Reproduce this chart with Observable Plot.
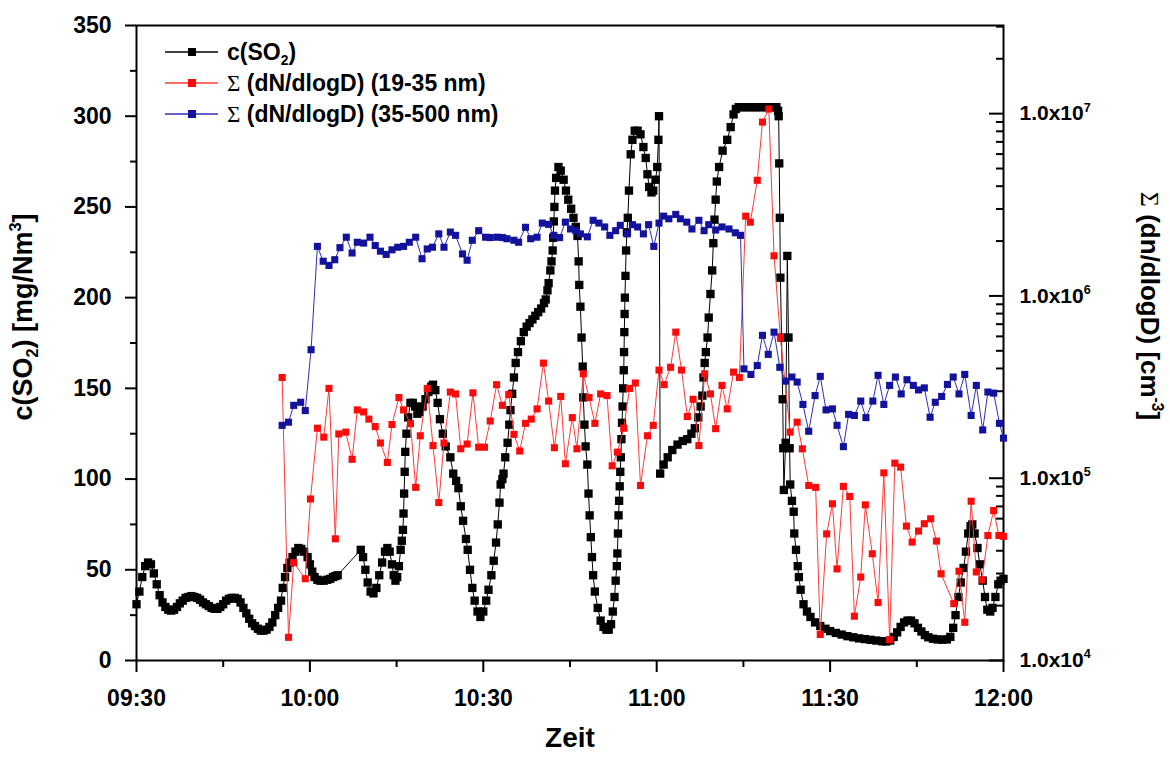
<!DOCTYPE html>
<html>
<head>
<meta charset="utf-8">
<script src="https://cdn.jsdelivr.net/npm/d3@7"></script>
<script src="https://cdn.jsdelivr.net/npm/@observablehq/plot@0.6"></script>
<style>
  body { margin: 0; background: #fff; }
  #wrap { position: relative; width: 1170px; height: 758px; font-family: "Liberation Sans", Arial, Helvetica, sans-serif; }
</style>
</head>
<body>
<div id="wrap"></div>
<script>
// ---------- DATA (time = minutes after 09:30) ----------
// c(SO2) [mg/Nm3], left axis
const so2Readings = [
  [0,31],[0.5,38],[1,46],[1.5,52],[2,54],[2.5,53],[3,48],[3.5,42],[4,36],[4.5,32],[5,29.5],[5.5,28],[6,27.5],[6.5,28],[7,29.5],[7.5,31.5],[8,33],[8.5,34.5],[9,35],[9.5,35.5],[10,35],[10.5,34.5],[11,33.5],[11.5,32],[12,31],[12.5,30],[13,29],[13.5,28.5],[14,28.5],[14.5,29.5],[15,31],[15.5,33],[16,34],[16.5,34.5],[17,34.5],[17.5,34],[18,32],[18.5,29],[19,26],[19.5,23],[20,20.5],[20.5,19],[21,17.5],[21.5,16.5],[22,16.5],[22.5,17],[23,18.5],[23.5,21],[24,25],[24.5,29],[25,33],
  [25.3,40],[25.7,46],[26.1,51],[26.5,54],[27,57],[27.5,60],[28,62],[28.5,61.5],[29,60],[29.6,57],[30,53],[30.4,49],[30.8,46],[31.3,44.5],[31.8,44],[32.4,44],[33,44.5],[33.5,45],[34,46],[34.4,46.5],[34.8,47],
  [38.8,61],[39.2,57],[39.6,50],[40,43],[40.5,38],[41,37],[41.5,40],[42,47],[42.5,54],[43,60],[43.4,62],[43.8,60],[44.2,53],[44.5,47],[44.8,44],[45.1,46],[45.4,52],[45.7,61],[45.9,66],[46.1,72],[46.2,81],[46.3,92],[46.4,104],[46.5,115],[46.7,125],[47,134],[47.4,142],[47.8,142],[48.2,140],[48.6,136],[49,137],[49.5,140],[50,144],[50.5,148],[51,151],[51.3,152],[51.7,149],[52.1,142],[52.5,133],[53,125],[53.5,118],[54.3,112],[54.8,103],[55.3,99],[55.7,95],[56.1,85],[56.5,77],[57,67],[57.3,61],[57.7,50],[58.1,40],[58.5,33],[59,27],[59.5,24],[60,27],[60.5,33],[60.9,39],[61.4,47],[61.8,55],[62.2,65],[62.5,75],[62.8,87],[63,97],[63.3,100],[63.5,103],[63.8,112],[64.2,120],[64.5,130],[64.7,138],[65,147],[65.3,156],[65.6,164],[66,170],[66.5,176],[67,181],[67.5,184],[68,186],[68.5,188],[69,190],[69.5,192],[70,194],[70.5,197],[70.8,199],[71.1,204],[71.3,208],[71.6,215],[71.8,220],[72,226],[72.1,233],[72.2,242],[72.3,250],[72.4,259],[72.6,266],[73,272],[73.4,270],[73.9,265],[74.3,259],[74.7,254],[75.2,249],[75.6,244],[76,239],[76.3,234],[76.5,220],[76.6,207],[76.8,195],[77,178],[77.2,162],[77.3,145],[77.5,130],[77.7,118],[78,108],[78.2,92],[78.4,80],[78.6,68],[78.8,57],[79,47],[79.3,38],[79.8,29],[80.3,22],[80.8,18.5],[81.3,17],[81.7,17],[82.1,20],[82.4,27],[82.7,35],[82.9,44],[83.1,52],[83.2,59],[83.3,70],[83.4,80],[83.5,88],[83.6,96],[83.7,104],[83.8,112],[83.9,122],[84,131],[84.1,140],[84.2,150],[84.3,160],[84.35,170],[84.4,181],[84.45,191],[84.5,200],[84.6,212],[84.7,226],[84.85,236],[85,244],[85.2,259],[85.5,279],[85.8,287],[86.2,292],[86.7,292],[87.2,290],[87.7,283],[88.1,277],[88.4,268],[88.7,261],[89.1,258],[89.4,259],[89.8,265],[90.1,272],[90.3,287],[90.4,300],
  [90.6,103],[91.2,108],[91.9,112],[92.7,116],[93.6,119],[94.5,121],[95.3,122],[96,125],[96.6,128],[97.2,134],[97.6,140],[97.9,146],[98.1,156],[98.3,164],[98.5,170],[98.8,178],[99,189],[99.3,202],[99.6,215],[99.8,230],[100,243],[100.2,254],[100.4,264],[100.8,272],[101.4,281],[102.2,287],[102.8,294],[103.3,301],[103.7,304],[104.2,305],[104.7,305],[105.2,305],[105.7,305],[106.2,305],[106.7,305],[107.2,305],[107.7,305],[108.2,305],[108.7,305],[109.2,305],[109.7,305],[110.2,305],[110.7,305],[111,303],[111.1,300],[111.2,274],[111.3,244],[111.4,211],[111.6,178],[111.8,144],[111.9,117],[112,94],[112.3,120],[112.6,223],[112.8,178],[113,117],[113.1,97],[113.4,88],[113.7,82],[113.8,70],[114.1,61],[114.4,52],[114.6,46],[114.9,39],[115.4,31],[116,27],[116.6,24],[117.4,21],[118.3,19],[119.2,17.5],[120,16.2],[121,15.2],[122,14.3],[123,13.4],[124,12.8],[125,12.2],[126,11.8],[127,11.4],[128,11],[129,10.6],[129.7,10.5],[130.4,11],[131,13],[131.6,15.5],[132.2,18.5],[132.8,21],[133.4,22],[134,22],[134.6,20.5],[135.2,18],[135.8,16],[136.4,14],[137,12.8],[137.8,12],[138.6,11.6],[139.4,11.5],[140.2,11.6],[140.8,13],[141.3,18],[141.7,25],[142.2,35],[142.6,43],[143.1,51],[143.5,60],[143.9,70],[144.3,74],[144.6,75],[145,70],[145.5,62],[145.9,53],[146.4,44],[146.8,35],[147.2,28],[147.7,27],[148.1,29],[148.6,35],[149.1,42],[149.5,44],[150,45]
];

// Σ dN/dlogD 19-35 nm [cm^-3], right (log) axis
const fineReadings = [
  [25.2,3.57e5],[26.3,1.34e4],[27.2,3.44e4],[29.2,2.81e4],[30.1,7.69e4],[31.3,1.88e5],[32.4,1.68e5],[33.3,3.11e5],[34.4,4.65e4],[35,1.75e5],[36.2,1.79e5],[37.3,1.27e5],[38.2,2.37e5],[39.3,2.31e5],[40.2,2.11e5],[41.3,1.92e5],[42.2,1.56e5],[43.4,1.22e5],[44.2,1.97e5],[45.4,2.77e5],[46.2,2.37e5],[47.4,1.99e5],[48.3,8.91e4],[49.1,1.71e5],[50.3,3.11e5],[51.3,1.51e5],[52.3,7.35e4],[53.2,1.56e5],[54.3,2.97e5],[55.2,2.90e5],[56.1,1.45e5],[57.2,1.54e5],[58.2,2.94e5],[59.2,1.48e5],[60.2,1.48e5],[61.2,2.06e5],[62.3,3.26e5],[63.3,2.51e5],[64.4,2.88e5],[65.3,1.74e5],[66.3,1.41e5],[67.3,2.00e5],[68.3,2.11e5],[69.3,2.40e5],[70.4,4.28e5],[71.3,2.65e5],[72.3,1.47e5],[73.4,2.81e5],[74.2,1.20e5],[75.4,2.15e5],[76.2,1.45e5],[77.3,3.74e5],[78.3,2.77e5],[79.3,2.00e5],[80.3,2.90e5],[81.4,2.84e5],[82.3,1.17e5],[83.2,1.39e5],[84.3,1.88e5],[85.3,3.11e5],[86.3,3.33e5],[87.2,9.12e4],[88.4,1.71e5],[89.4,1.95e5],[90.4,3.92e5],[91.3,3.26e5],[92.4,4.06e5],[93.3,6.33e5],[94.3,3.92e5],[95.3,2.18e5],[96.3,2.71e5],[97.3,1.51e5],[98.3,3.74e5],[99.3,2.90e5],[100.2,1.87e5],[101.3,3.23e5],[102.2,2.40e5],[103.3,3.82e5],[104.3,3.57e5],[105.4,2.74e6],[106.2,2.54e6],[107.4,4.31e6],[108.3,8.99e6],[109.4,1.06e7],[110.3,1.66e6],[111.4,5.91e5],[113.1,1.79e5],[114.3,2.03e5],[115.2,1.45e5],[116.3,9.12e4],[117.5,8.91e4],[118.3,1.39e4],[119.4,4.95e4],[120.4,7.24e4],[121.2,3.18e4],[122.3,9.02e4],[123.4,7.94e4],[124.2,1.75e4],[125.3,2.87e4],[126.1,7.14e4],[127.3,3.85e4],[128.3,2.08e4],[129.3,1.07e5],[130.3,1.30e4],[131.2,1.21e5],[132.2,1.15e5],[133.2,5.46e4],[134.2,4.46e4],[135.3,5.13e4],[136.3,5.63e4],[137.4,5.99e4],[138.4,4.52e4],[139.2,2.99e4],[141.4,2.05e4],[142.3,3.09e4],[143.3,1.62e4],[144.4,7.48e4],[145.3,3.06e4],[146.3,2.77e4],[147.3,4.85e4],[148.3,6.65e4],[149.2,4.85e4],[150,4.80e4]
];

// Σ dN/dlogD 35-500 nm [cm^-3], right (log) axis
const coarseReadings = [
  [25.2,1.95e5],[26.3,2.03e5],[27.2,2.51e5],[28.4,2.61e5],[29.2,2.35e5],[30.2,5.07e5],[31.3,1.87e6],[32.3,1.55e6],[33.3,1.47e6],[34.3,1.58e6],[35.2,1.84e6],[36.3,2.10e6],[37.3,1.72e6],[38.2,1.97e6],[39.3,1.95e6],[40.4,2.10e6],[41.3,1.89e6],[42.2,1.76e6],[43.2,1.69e6],[44.2,1.79e6],[45.2,1.85e6],[46.2,1.87e6],[47.2,1.97e6],[48.3,2.10e6],[49.4,1.60e6],[50.3,1.81e6],[51.2,1.85e6],[52.3,2.19e6],[53.2,1.85e6],[54.3,2.24e6],[55.2,2.15e6],[56.4,1.70e6],[57.2,1.57e6],[58.1,2.02e6],[59.2,2.28e6],[60.4,2.10e6],[61.2,2.09e6],[62.4,2.10e6],[63.3,2.09e6],[64.1,2.06e6],[65.3,2.02e6],[66.1,1.97e6],[67.3,2.38e6],[68.2,2.06e6],[69.3,2.10e6],[70.2,2.51e6],[71.3,2.47e6],[72.2,2.15e6],[73.2,2.09e6],[74.2,2.54e6],[75.1,2.33e6],[76,2.28e6],[76.8,2.19e6],[78,2.11e6],[79,2.60e6],[80,2.51e6],[81,2.39e6],[81.9,2.15e6],[82.9,2.28e6],[83.7,2.44e6],[84.9,2.19e6],[85.8,2.46e6],[86.7,2.39e6],[87.7,2.19e6],[88.6,2.46e6],[89.5,1.87e6],[90.4,2.51e6],[91.2,2.74e6],[92.1,2.65e6],[93.3,2.80e6],[94.1,2.65e6],[95.2,2.54e6],[96.1,2.33e6],[97.3,2.60e6],[98.2,2.28e6],[99,2.46e6],[100.2,2.30e6],[101.3,2.39e6],[102.5,2.33e6],[103.6,2.22e6],[104.5,2.15e6],[105.1,3.98e5],[106.3,3.71e5],[107.4,4.15e5],[108.3,6.08e5],[109.3,4.78e5],[110.3,6.33e5],[111.3,4.06e5],[112.3,3.41e5],[113.4,3.59e5],[114.3,3.37e5],[115.3,2.54e5],[116.3,1.81e5],[117.4,2.84e5],[118.3,3.62e5],[119.3,2.37e5],[120.4,2.40e5],[121.2,1.95e5],[122.3,1.49e5],[123.2,2.24e5],[124.2,2.21e5],[125.3,2.65e5],[126.2,2.15e5],[127.4,2.65e5],[128.3,3.67e5],[129.3,2.54e5],[130.3,3.23e5],[131.3,3.59e5],[132.3,2.90e5],[133.3,3.47e5],[134.4,3.23e5],[135.3,3.05e5],[136.3,3.13e5],[137.3,2.16e5],[138.2,2.61e5],[139.3,2.81e5],[140.3,3.27e5],[141.3,3.59e5],[142.3,2.90e5],[143.3,3.71e5],[144.4,2.21e5],[145.3,3.23e5],[146.4,1.84e5],[147.3,2.97e5],[148.3,2.93e5],[149.3,2.00e5],[150,1.66e5]
];

// Axes / ticks
const xTickMinutes = [0, 30, 60, 90, 120, 150];
const xTickLabels = ["09:30", "10:00", "10:30", "11:00", "11:30", "12:00"];
const xMinorMinutes = [15, 45, 75, 105, 135];
const leftDomain = [0, 350];
const leftTicks = [0, 50, 100, 150, 200, 250, 300, 350];
const leftMinorTicks = [25, 75, 125, 175, 225, 275, 325];
const rightDomain = [1e4, 3.045e7];
const rightTicks = [1e4, 1e5, 1e6, 1e7];
const rightTickLabels = ["1.0x10^{4}", "1.0x10^{5}", "1.0x10^{6}", "1.0x10^{7}"];
const rightMinorTicks = [2e4,3e4,4e4,5e4,6e4,7e4,8e4,9e4, 2e5,3e5,4e5,5e5,6e5,7e5,8e5,9e5, 2e6,3e6,4e6,5e6,6e6,7e6,8e6,9e6, 2e7,3e7];

const leftTitle = "c(SO_{2}) [mg/Nm^{3}]";
const rightTitle = "Σ (dn/dlogD) [cm^{-3}]";
const xTitle = "Zeit";
const legendLabels = ["c(SO_{2})", "Σ (dN/dlogD) (19-35 nm)", "Σ (dN/dlogD) (35-500 nm)"];
const seriesMarkColors = ["#000000", "#ff0a0a", "#12129c"];
const seriesLineColors = ["#000000", "#ff3b3b", "#2f2fb8"];

// ---------- right log axis expressed on the left linear scale ----------
const lgLo = Math.log10(rightDomain[0]), lgHi = Math.log10(rightDomain[1]);
const toLeft = n => (Math.log10(n) - lgLo) / (lgHi - lgLo) * (leftDomain[1] - leftDomain[0]) + leftDomain[0];

const FONT = "'Liberation Sans', Arial, Helvetica, sans-serif";

const chart = Plot.plot({
  width: 1170,
  height: 758,
  marginLeft: 136,
  marginRight: 167,
  marginTop: 25,
  marginBottom: 98,
  x: {domain: [0, 150]},
  y: {domain: leftDomain},
  style: {fontFamily: FONT, fontWeight: "bold", color: "#000", background: "#fff", overflow: "visible"},
  marks: [
    // bottom axis
    Plot.axisX(xTickMinutes, {tickSize: 12, tickPadding: 17, strokeWidth: 2, fontSize: 23, label: null,
      tickFormat: d => xTickLabels[xTickMinutes.indexOf(d)]}),
    Plot.axisX(xMinorMinutes, {tickSize: 7, strokeWidth: 2, tickFormat: () => "", label: null}),
    // left axis
    Plot.axisY(leftTicks, {anchor: "left", tickSize: 11, tickPadding: 14, strokeWidth: 2, fontSize: 23, label: null}),
    Plot.axisY(leftMinorTicks, {anchor: "left", tickSize: 6, strokeWidth: 2, tickFormat: () => "", label: null}),
    // right log axis (ticks inward)
    Plot.axisY(rightTicks.map(toLeft), {anchor: "right", tickSize: -15, tickPadding: 31, strokeWidth: 2, fontSize: 21, label: null,
      tickFormat: d => rightTickLabels[rightTicks.map(toLeft).indexOf(d)]}),
    Plot.axisY(rightMinorTicks.map(toLeft), {anchor: "right", tickSize: -8, strokeWidth: 2, tickFormat: () => "", label: null}),
    Plot.frame({strokeWidth: 2}),
    // SO2 series
    Plot.line(so2Readings, {x: d => d[0], y: d => d[1], stroke: seriesLineColors[0], strokeWidth: 1}),
    Plot.dot(so2Readings, {x: d => d[0], y: d => d[1], symbol: "square", r: 4.7, fill: seriesMarkColors[0]}),
    // 19-35 nm
    Plot.line(fineReadings, {x: d => d[0], y: d => toLeft(d[1]), stroke: seriesLineColors[1], strokeWidth: 1}),
    Plot.dot(fineReadings, {x: d => d[0], y: d => toLeft(d[1]), symbol: "square", r: 4, fill: seriesMarkColors[1]}),
    // 35-500 nm
    Plot.line(coarseReadings, {x: d => d[0], y: d => toLeft(d[1]), stroke: seriesLineColors[2], strokeWidth: 1}),
    Plot.dot(coarseReadings, {x: d => d[0], y: d => toLeft(d[1]), symbol: "square", r: 4, fill: seriesMarkColors[2]}),
    // axis titles
    Plot.text([leftTitle], {frameAnchor: "left", textAnchor: "middle", dx: -113, dy: -26, rotate: -90, fontSize: 27, fontWeight: "bold", fill: "#000"}),
    Plot.text([rightTitle], {frameAnchor: "right", textAnchor: "middle", dx: 146, dy: -37, rotate: 90, fontSize: 26, fontWeight: "bold", fill: "#000"}),
    Plot.text([xTitle], {frameAnchor: "bottom", textAnchor: "middle", dx: 0, dy: 86, fontSize: 28, fontWeight: "bold", fill: "#000"})
  ]
});

const wrap = document.getElementById("wrap");
wrap.appendChild(chart);

// ---------- legend ----------
const leg = d3.select(wrap).append("svg")
  .attr("width", 440).attr("height", 100)
  .style("position", "absolute").style("left", "160px").style("top", "35px")
  .style("font-family", FONT).style("font-weight", "bold").style("overflow", "visible");
legendLabels.forEach((lab, i) => {
  const g = leg.append("g").attr("transform", `translate(0,${17 + i * 31})`);
  g.append("line").attr("x1", 5).attr("x2", 58).attr("y1", 0).attr("y2", 0)
    .attr("stroke", seriesLineColors[i]).attr("stroke-width", 1.3);
  g.append("rect").attr("x", 28).attr("y", -4).attr("width", 8).attr("height", 8).attr("fill", seriesMarkColors[i]);
  g.append("text").attr("x", 67).attr("dy", "0.36em").attr("font-size", 23).attr("fill", "#000").text(lab);
});

// ---------- rich text (super/subscripts, serif sigma) ----------
function richify(root) {
  const ns = "http://www.w3.org/2000/svg";
  root.querySelectorAll("text").forEach(t => {
    const s = t.textContent;
    if (!/[\^_]\{|Σ/.test(s)) return;
    const fs = parseFloat(getComputedStyle(t).fontSize) || 20;
    while (t.firstChild) t.removeChild(t.firstChild);
    let shift = 0;
    const add = (txt, o = {}) => {
      const sp = document.createElementNS(ns, "tspan");
      sp.textContent = txt;
      const target = o.shift || 0;
      if (target - shift) sp.setAttribute("dy", target - shift);
      shift = target;
      if (o.size) sp.setAttribute("font-size", o.size);
      if (o.family) sp.setAttribute("font-family", o.family);
      if (o.weight) sp.setAttribute("font-weight", o.weight);
      t.appendChild(sp);
    };
    const re = /\^\{([^}]*)\}|_\{([^}]*)\}|(Σ)/g;
    let last = 0, m;
    while ((m = re.exec(s))) {
      if (m.index > last) add(s.slice(last, m.index));
      if (m[1] !== undefined) add(m[1], {shift: -0.42 * fs, size: 0.6 * fs});
      else if (m[2] !== undefined) add(m[2], {shift: 0.2 * fs, size: 0.6 * fs});
      else add("Σ", {family: "'Liberation Serif', 'DejaVu Serif', serif", weight: "normal"});
      last = re.lastIndex;
    }
    if (last < s.length) add(s.slice(last));
  });
}
richify(chart);
richify(leg.node());
</script>
</body>
</html>
